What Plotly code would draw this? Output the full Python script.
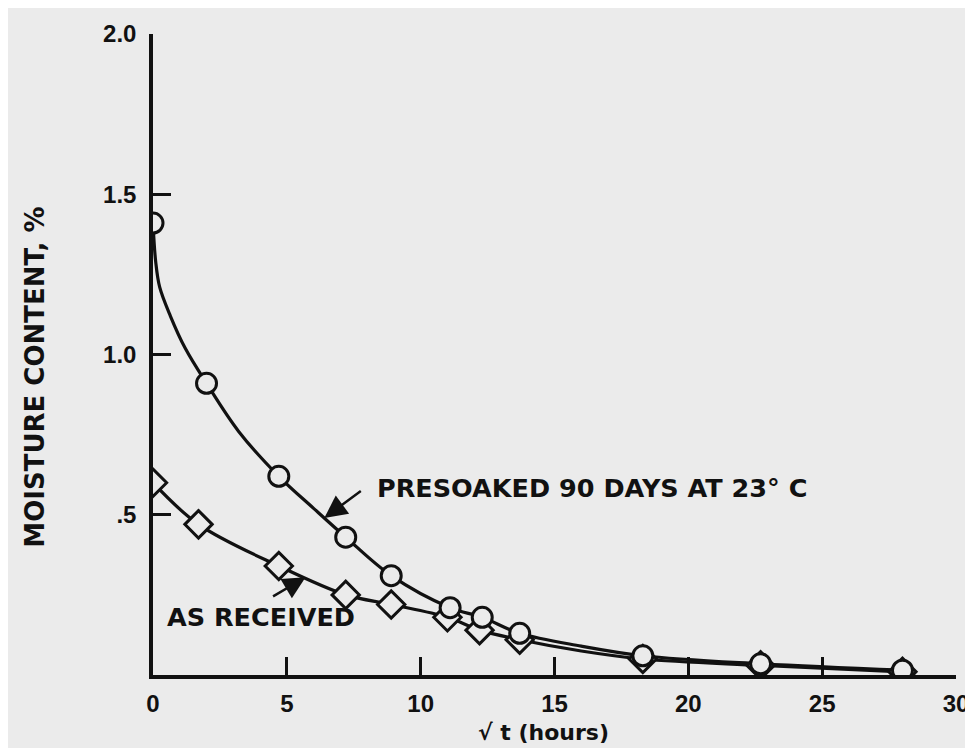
import plotly.graph_objects as go

# ---- data ----
presoak_x = [0, 2.0, 4.7, 7.2, 8.9, 11.1, 12.3, 13.7, 18.3, 22.7, 28.0]
presoak_y = [1.41, 0.91, 0.62, 0.43, 0.31, 0.21, 0.18, 0.13, 0.06, 0.035, 0.015]

received_x = [0, 1.7, 4.7, 7.2, 8.9, 11.0, 12.2, 13.7, 18.3, 22.7, 28.0]
received_y = [0.60, 0.47, 0.34, 0.25, 0.22, 0.18, 0.14, 0.11, 0.05, 0.03, 0.01]

# smooth fitted curves as drawn on the chart
presoak_curve_x = [0, 0.1, 0.25, 0.65, 1.2, 2.0, 3.2, 4.7, 6.0, 7.2, 8.9, 11.1, 12.3, 13.7, 16.0, 18.3, 22.7, 28.0]
presoak_curve_y = [1.41, 1.29, 1.21, 1.12, 1.02, 0.91, 0.76, 0.62, 0.52, 0.43, 0.31, 0.21, 0.18, 0.13, 0.09, 0.06, 0.035, 0.015]

received_curve_x = [0, 1.7, 4.7, 7.2, 8.9, 11.0, 12.2, 13.7, 16.0, 18.3, 22.7, 28.0]
received_curve_y = [0.60, 0.47, 0.34, 0.25, 0.22, 0.18, 0.14, 0.11, 0.075, 0.05, 0.03, 0.01]

x_ticks = [0, 5, 10, 15, 20, 25, 30]
x_tick_labels = ["0", "5", "10", "15", "20", "25", "30"]
y_ticks = [0.5, 1.0, 1.5, 2.0]
y_tick_labels = [".5", "1.0", "1.5", "2.0"]

BG = "#ebebeb"
INK = "#111111"

fig = go.Figure()

for cx, cy in [(presoak_curve_x, presoak_curve_y), (received_curve_x, received_curve_y)]:
    fig.add_trace(go.Scatter(
        x=cx, y=cy, mode="lines",
        line=dict(color=INK, width=3.2, shape="spline", smoothing=1.0),
        hoverinfo="skip", showlegend=False))

fig.add_trace(go.Scatter(
    x=received_x, y=received_y, mode="markers",
    marker=dict(symbol="diamond", size=21, color=BG, line=dict(color=INK, width=3)),
    showlegend=False, name="AS RECEIVED"))

fig.add_trace(go.Scatter(
    x=presoak_x, y=presoak_y, mode="markers",
    marker=dict(symbol="circle", size=20, color=BG, line=dict(color=INK, width=3)),
    showlegend=False, name="PRESOAKED"))

label_font = dict(family="DejaVu Sans", size=25.5, color=INK, weight="bold")

# text labels
fig.add_annotation(x=8.3, y=0.585, xref="x", yref="y", text="PRESOAKED 90 DAYS AT 23° C",
                   showarrow=False, xanchor="left", yanchor="middle", font=label_font)
fig.add_annotation(x=0.45, y=0.18, xref="x", yref="y", text="AS RECEIVED",
                   showarrow=False, xanchor="left", yanchor="middle", font=label_font)

# arrows
fig.add_annotation(x=6.4, y=0.49, xref="x", yref="y", text="", showarrow=True,
                   ax=38, ay=-28, arrowhead=2, arrowsize=1.8, arrowwidth=2.5, arrowcolor=INK)
fig.add_annotation(x=5.7, y=0.305, xref="x", yref="y", text="", showarrow=True,
                   ax=-34, ay=20, arrowhead=2, arrowsize=1.8, arrowwidth=2.5, arrowcolor=INK)

# axis titles
fig.add_annotation(x=-0.148, y=0.464, xref="paper", yref="paper", text="MOISTURE CONTENT, %",
                   textangle=-90, showarrow=False, xanchor="center", yanchor="middle",
                   font=dict(family="DejaVu Sans", size=26, color=INK, weight="bold"))
fig.add_annotation(x=0.486, y=-0.09, xref="paper", yref="paper", text="√ t (hours)",
                   showarrow=False, xanchor="center", yanchor="middle",
                   font=dict(family="DejaVu Sans", size=22, color=INK, weight="bold"))

tick_font = dict(family="Liberation Sans, Arial", size=24, color=INK, weight="bold")

fig.update_xaxes(range=[0, 30], tickvals=x_ticks, ticktext=x_tick_labels,
                 showline=True, linecolor=INK, linewidth=3.5, mirror=False,
                 ticks="inside", ticklen=18, tickwidth=2.5, tickcolor=INK,
                 showgrid=False, zeroline=False, tickfont=tick_font, ticklabelstandoff=4)
fig.update_yaxes(range=[0, 2.0], tickvals=y_ticks, ticktext=y_tick_labels,
                 showline=True, linecolor=INK, linewidth=3.5, mirror=False,
                 ticks="inside", ticklen=18, tickwidth=2.5, tickcolor=INK,
                 showgrid=False, zeroline=False, tickfont=tick_font, ticklabelstandoff=8)

fig.update_layout(width=973, height=748,
                  margin=dict(l=145, r=25, t=22, b=81),
                  paper_bgcolor=BG, plot_bgcolor=BG,
                  showlegend=False)

fig.write_html("out.html")
